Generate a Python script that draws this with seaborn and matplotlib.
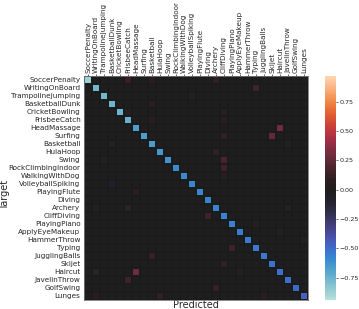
import numpy as np
import pandas as pd
import seaborn as sns
import matplotlib.pyplot as plt

classes = ['SoccerPenalty', 'WritingOnBoard', 'TrampolineJumping', 'BasketballDunk',
           'CricketBowling', 'FrisbeeCatch', 'HeadMassage', 'Surfing', 'Basketball',
           'HulaHoop', 'Swing', 'RockClimbingIndoor', 'WalkingWithDog',
           'VolleyballSpiking', 'PlayingFlute', 'Diving', 'Archery', 'CliffDiving',
           'PlayingPiano', 'ApplyEyeMakeup', 'HammerThrow', 'Typing', 'JugglingBalls',
           'Skijet', 'Haircut', 'JavelinThrow', 'GolfSwing', 'Lunges']

# diagonal (target == predicted)
diag_vals = [-0.88, -0.77, -0.77, -0.76, -0.76, -0.74, -0.67, -0.66, -0.65, -0.64,
             -0.63, -0.59, -0.59, -0.58, -0.58, -0.57, -0.57, -0.56, -0.56, -0.55,
             -0.55, -0.54, -0.53, -0.52, -0.51, -0.50, -0.49, -0.46]

# off-diagonal cells: (target, predicted, value)
off_rows = [0, 0, 0, 1, 2, 3, 4, 4, 5, 5, 6, 7, 7, 8, 8, 9, 10, 10, 11, 12,
            13, 14, 16, 16, 16, 17, 18, 19, 21, 22, 23, 24, 24, 24, 25, 26, 27, 27, 27, 20]
off_cols = [5, 8, 16, 21, 13, 8, 5, 17, 8, 17, 24, 23, 17, 3, 25, 16, 17, 2, 17, 17,
            3, 6, 5, 1, 25, 15, 21, 24, 18, 8, 17, 1, 6, 19, 5, 16, 9, 22, 1, 27]
off_vals = [0.12, 0.06, 0.10, 0.16, 0.05, 0.08, 0.06, 0.08, 0.05, 0.06, 0.30, 0.26,
            0.10, 0.08, -0.05, 0.10, 0.18, 0.04, 0.15, 0.06, -0.08, 0.08, 0.10, -0.06,
            0.08, 0.15, 0.07, 0.04, 0.15, 0.12, 0.10, -0.10, 0.30, 0.05, 0.15, 0.12,
            0.10, 0.06, 0.05, 0.04]

n = len(classes)
mat = np.zeros((n, n))
mat[np.arange(n), np.arange(n)] = diag_vals
mat[off_rows, off_cols] = off_vals
df = pd.DataFrame(mat, index=classes, columns=classes)

sns.set_theme(style='white')
plt.rcParams['font.family'] = ['DejaVu Sans']

fig = plt.figure(figsize=(3.59, 3.09), dpi=100)
ax = fig.add_axes([84 / 359, 1 - 300 / 309, 224 / 359, 224 / 309])
cax = fig.add_axes([325 / 359, 1 - 300 / 309, 11 / 359, 224 / 309])

sns.heatmap(df, ax=ax, cbar_ax=cax, cmap='icefire', center=0, vmin=-0.94, vmax=0.97,
            linewidths=0.25, linecolor='#1b1b1b',
            xticklabels=True, yticklabels=True)

ax.xaxis.tick_top()
ax.set_xticklabels(classes, rotation=90, fontsize=5.2)
ax.set_yticklabels(classes, rotation=0, fontsize=5.2)
ax.tick_params(axis='both', length=1.5, width=0.5, pad=1, colors='#262626')
ax.set_xlabel('Predicted', fontsize=7, labelpad=0)
ax.set_ylabel('Target', fontsize=7)
ax.xaxis.set_label_position('bottom')
ax.yaxis.set_label_coords(-0.33, 0.47)
for s in ax.spines.values():
    s.set_visible(True)
    s.set_color('#777777')
    s.set_linewidth(0.6)

cax.set_yticks([-0.75, -0.5, -0.25, 0, 0.25, 0.5, 0.75])
cax.tick_params(labelsize=4.6, length=1.5, width=0.5, pad=1)
cax.yaxis.set_major_formatter(plt.FuncFormatter(lambda v, p: f'{v:.2f}'.replace('-', '\u2212')))
for s in cax.spines.values():
    s.set_visible(False)

fig.savefig('out.png', dpi=100)
